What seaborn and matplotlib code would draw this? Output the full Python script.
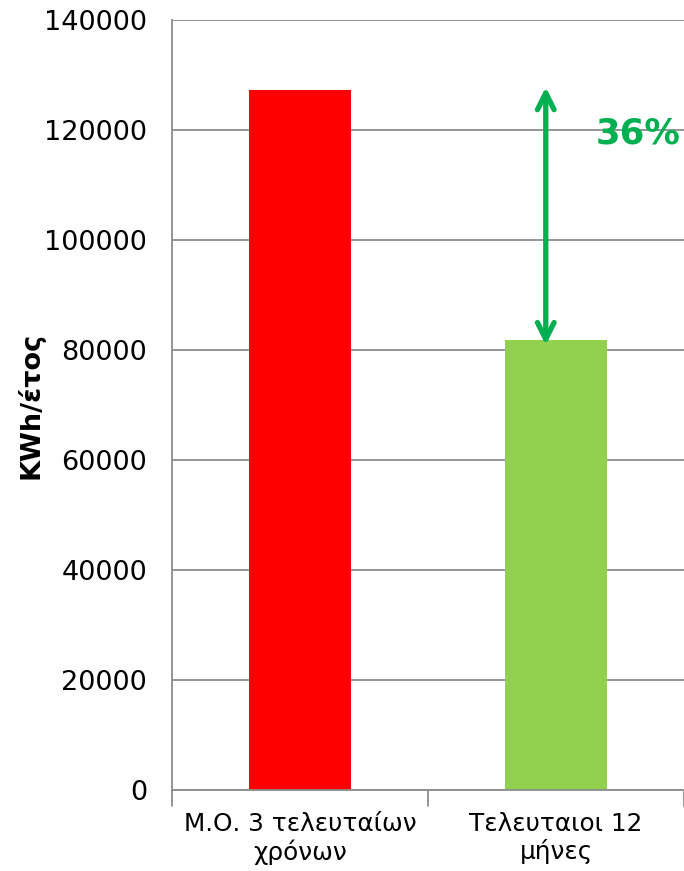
import matplotlib
matplotlib.use("Agg")
import matplotlib.pyplot as plt
import seaborn as sns

# Δεδομένα
categories = ["Μ.Ο. 3 τελευταίων\nχρόνων", "Τελευταιοι 12\nμήνες"]
values = [127200, 81800]
bar_colors = ["#ff0000", "#92d050"]
yticks = [0, 20000, 40000, 60000, 80000, 100000, 120000, 140000]
reduction_label = "36%"

sns.set_style("white")
plt.rcParams['font.family'] = ['DejaVu Sans']
plt.rcParams['text.color'] = 'black'
plt.rcParams['xtick.color'] = 'black'
plt.rcParams['ytick.color'] = 'black'
plt.rcParams['axes.labelcolor'] = 'black'

fig = plt.figure(figsize=(6.84, 8.71), dpi=100)
ax = fig.add_axes([0.2515, 0.093, 0.7485, 0.884])

sns.barplot(x=categories, y=values, hue=categories, palette=bar_colors,
            width=0.4, legend=False, saturation=1, linewidth=0, ax=ax)

ax.set_ylim(0, 140000)
ax.set_xlim(-0.5, 1.5)
ax.set_yticks(yticks)
ax.set_yticklabels([str(t) for t in yticks], fontsize=19.5)
ax.tick_params(axis='x', labelsize=17.8, length=0, pad=16)
ax.tick_params(axis='y', length=7, color='#8c8c8c', width=1.3, pad=11)
ax.yaxis.grid(True, color='#8c8c8c', linewidth=1.3)
ax.set_axisbelow(True)
for lbl in ax.get_xticklabels():
    lbl.set_linespacing(1.15)

# x tick marks between categories
for xb in [-0.5, 0.5, 1.5]:
    ax.plot([xb, xb], [0, -3000], color='#8c8c8c', lw=1.3, clip_on=False)

for s in ['top', 'right']:
    ax.spines[s].set_visible(False)
for s in ['left', 'bottom']:
    ax.spines[s].set_color('#8c8c8c')
    ax.spines[s].set_linewidth(1.3)

ax.set_xlabel("")
ax.set_ylabel("KWh/έτος", fontsize=19.5, fontweight='bold')
ax.yaxis.set_label_coords(-0.277, 0.5)
ax.yaxis.label.set_va('center')

# διπλό βέλος μείωσης
ax.annotate("", xy=(0.96, 80900), xytext=(0.96, 127800),
            arrowprops=dict(arrowstyle='<->', color='#00b050', lw=3.8,
                            mutation_scale=30, shrinkA=0, shrinkB=0))
ax.text(1.32, 119300, reduction_label, color='#00b050', fontsize=25.5,
        fontweight='bold', ha='center', va='center')

fig.savefig("out.png", dpi=100)
